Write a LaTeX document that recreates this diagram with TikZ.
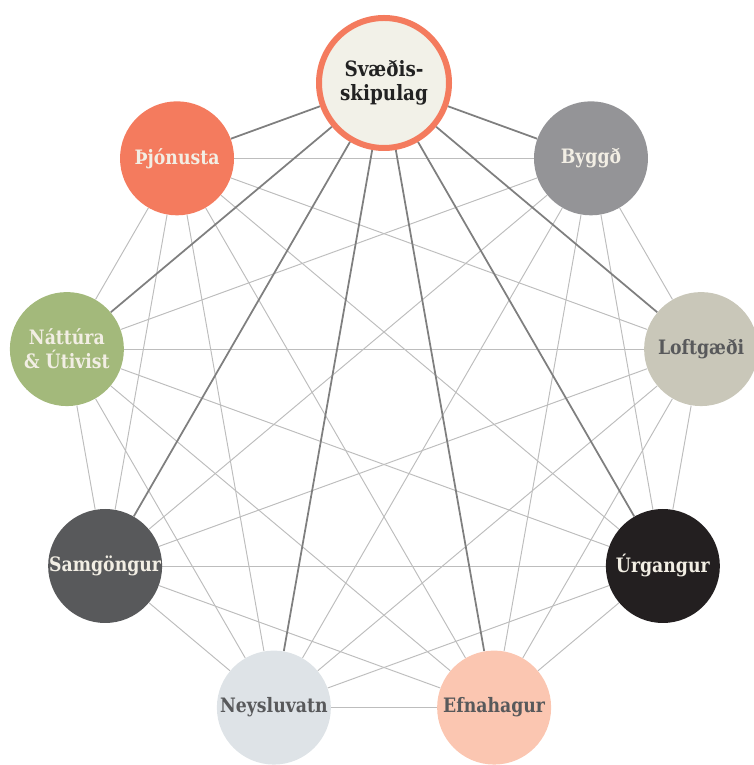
\documentclass[tikz,border=0pt]{standalone}
\usepackage{fontspec}
\setmainfont{DejaVu Serif}[FakeStretch=0.87]
\usetikzlibrary{positioning,backgrounds}
\definecolor{hubfill}{HTML}{F2F1E8}
\definecolor{coral}{HTML}{F47B5E}
\definecolor{byggc}{HTML}{949497}
\definecolor{natc}{HTML}{A3B97B}
\definecolor{loftc}{HTML}{C9C7B9}
\definecolor{samgc}{HTML}{58595B}
\definecolor{urgc}{HTML}{231F20}
\definecolor{neysc}{HTML}{DEE3E7}
\definecolor{efnac}{HTML}{FBC6B1}
\definecolor{inkdark}{HTML}{222222}
\definecolor{inkgray}{HTML}{58595B}
\definecolor{inklight}{HTML}{F2EEE4}
\definecolor{linklight}{HTML}{BDBDBD}
\definecolor{linkdark}{HTML}{7F7F7F}
\tikzstyle{topic}=[circle, minimum size=2.28cm, inner sep=0pt, align=center, font=\bfseries\fontsize{11.3}{13.7}\selectfont]
\tikzstyle{hub}=[topic, draw=coral, line width=0.12cm, fill=hubfill, text=inkdark, minimum size=2.6cm, font=\bfseries\fontsize{12}{13.7}\selectfont]
\tikzstyle{link}=[draw=linklight, line width=0.55pt]
\tikzstyle{spoke}=[draw=linkdark, line width=1pt]

\begin{document}
\begin{tikzpicture}
\useasboundingbox (0,0) rectangle (15.08,15.3);
\begin{scope}[shift={(7.68,7.2)}]

\node[hub] (plan) at (90:6.44) {Svæðis-\\skipulag};
% outer ring, 40 degrees apart
\foreach \k/\lbl/\bg/\fg in {1/{Þjónusta}/coral/inklight,
                              2/{Náttúra\\\& Útivist}/natc/inklight,
                              3/{Samgöngur}/samgc/inklight,
                              4/{Neysluvatn}/neysc/inkgray,
                              5/{Efnahagur}/efnac/inkgray,
                              6/{Úrgangur}/urgc/inklight,
                              7/{Loftgæði}/loftc/inkgray,
                              8/{Byggð}/byggc/inklight}
  \node[topic, fill=\bg, text=\fg] (t\k) at ({90+40*\k}:6.44) {\lbl};

\begin{pgfonlayer}{background}
\foreach \i in {1,...,8} {
  \foreach \j in {1,...,8} {
    \ifnum\j>\i \draw[link] (t\i) -- (t\j); \fi
  }
}
\foreach \i in {1,...,8}
  \draw[spoke] (plan) -- (t\i);
\end{pgfonlayer}

\end{scope}
\end{tikzpicture}
\end{document}
